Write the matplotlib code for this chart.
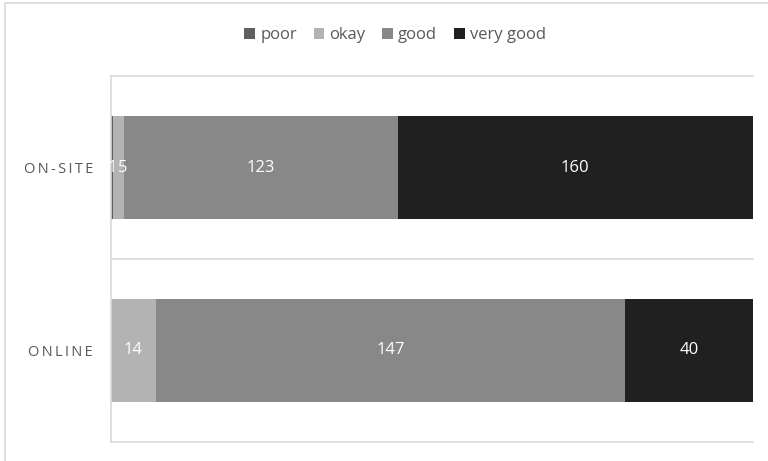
import matplotlib
matplotlib.use("Agg")
import matplotlib.pyplot as plt
from matplotlib.patches import Rectangle
import numpy as np

categories = ["ON-SITE", "ONLINE"]
series = ["poor", "okay", "good", "very good"]
poor = [1, 0]
okay = [5, 14]
good = [123, 147]
very_good = [160, 40]
colors = ["#5f5f5f", "#b3b3b3", "#888888", "#202020"]

plt.rcParams['font.family'] = ['Open Sans', 'DejaVu Sans']

fig = plt.figure(figsize=(7.68, 4.61), dpi=100)
W, H = 768, 461
ax = fig.add_axes([111 / W, 1 - 442 / H, (753 - 111) / W, (442 - 76) / H])

# outer border
fig.patches.append(Rectangle((5 / W, -0.1), 1.2, (1 - 3 / H) + 0.1, transform=fig.transFigure,
                             fill=False, edgecolor="#d9d9d9", linewidth=1.2))

data = np.array([poor, okay, good, very_good], dtype=float)
totals = data.sum(axis=0)
pct = data / totals
y = np.arange(len(categories))
left = np.zeros(len(categories))
prev_small = [False] * len(categories)
for i, name in enumerate(series):
    ax.barh(y, pct[i], left=left, height=0.56, color=colors[i], label=name)
    for j in range(len(categories)):
        v = data[i, j]
        if v > 0:
            # nudge a label that sits next to a very thin segment's label
            dx = 3 if prev_small[j] else 0
            ax.annotate(f"{int(v)}", (left[j] + pct[i, j] / 2, y[j]), xytext=(dx, 0),
                        textcoords="offset points", ha="center", va="center",
                        color="white", fontsize=12)
            prev_small[j] = pct[i, j] < 0.01
        else:
            prev_small[j] = False
    left += pct[i]

ax.set_xlim(0, 1)
ax.set_ylim(1.5, -0.5)
ax.set_xticks([])
ax.set_yticks(y)
spaced = ["\u2009".join(list(c)) for c in categories]
ax.set_yticklabels(spaced, color="#595959", fontsize=10.5)
ax.tick_params(axis="y", length=0, pad=13)
for s in ["top", "right", "bottom"]:
    ax.spines[s].set_visible(False)
ax.spines["left"].set_color("#d9d9d9")
ax.spines["left"].set_linewidth(1.2)
for yy in [-0.5, 0.5, 1.5]:
    ax.axhline(yy, color="#d9d9d9", linewidth=1.2, zorder=0, clip_on=False)

leg = fig.legend(loc="center", bbox_to_anchor=(395 / W, 1 - 35 / H), ncol=4, frameon=False,
                 fontsize=12, handlelength=0.65, handleheight=0.65, handletextpad=0.3,
                 columnspacing=1.0)
for t in leg.get_texts():
    t.set_color("#595959")

fig.savefig("out.png", dpi=100)
